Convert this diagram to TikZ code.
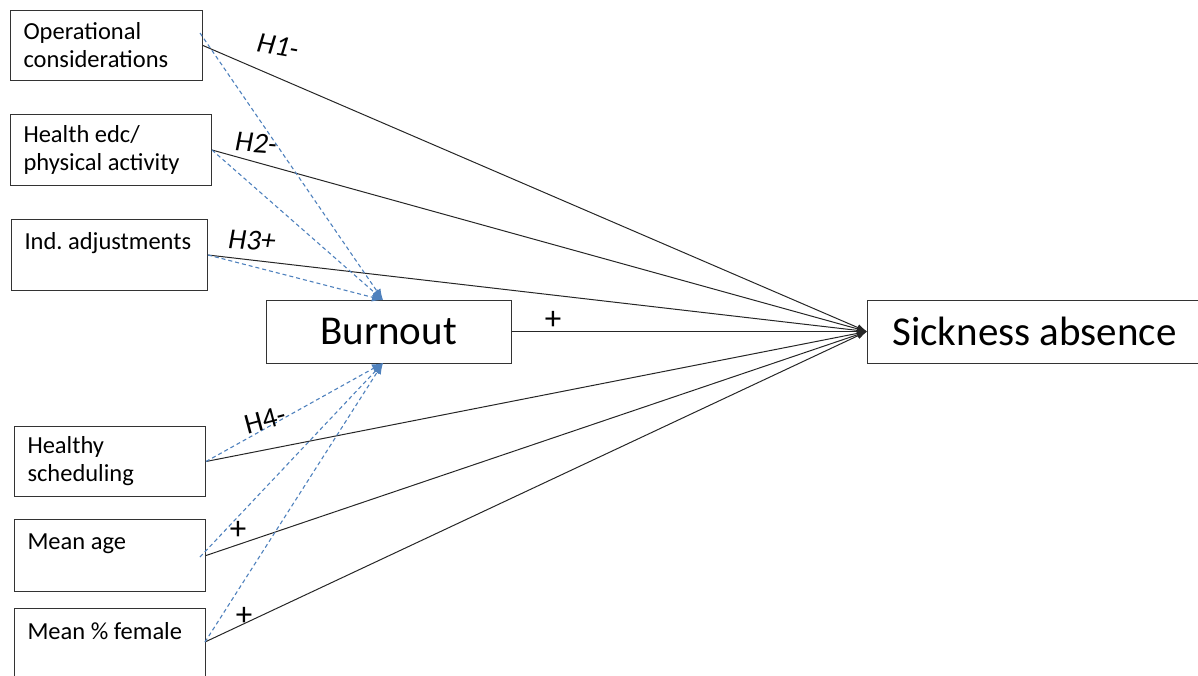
\documentclass[tikz,border=0pt]{standalone}
\usepackage{fontspec}
\setmainfont{Carlito}
\usetikzlibrary{arrows.meta}
\definecolor{dblue}{RGB}{79,129,189}
\newcommand\natsp{\frenchspacing \spaceskip=0pt \xspaceskip=0pt \hyphenpenalty=10000 }
\begin{document}
\begin{tikzpicture}[x=1pt,y=-1pt,
  varbox/.style={draw=black!80, line width=1pt, align=left, anchor=north west,
    inner xsep=13pt, inner ysep=0pt, font=\fontsize{24.5}{28}\selectfont},
  bigbox/.style={draw=black!80, line width=1pt, align=center, inner sep=0pt,
    minimum height=63pt, font=\fontsize{41}{46}\selectfont},
  solidarr/.style={draw=black!85, line width=1pt, -{Latex[length=10pt,width=7pt]}},
  dasharr/.style={draw=dblue, line width=1.1pt, dash pattern=on 4pt off 3pt,
    -{Latex[length=11pt,width=9pt]}},
  hlab/.style={font=\fontsize{29}{32}\selectfont\itshape, inner sep=0pt},
  plab/.style={font=\fontsize{33}{36}\selectfont, inner sep=0pt}]
\useasboundingbox (0,0) rectangle (1198,675);
\clip (0,0) rectangle (1198,675);

% boxes
\node[varbox, text width=166pt, minimum height=70pt] (op) at (10,10) {\natsp Operational\\considerations};
\node[varbox, text width=175pt, minimum height=71pt] (hea) at (10,114) {\natsp Health edc/\\physical activity};
\node[varbox, text width=170pt, minimum height=71pt] (ind) at (11,219) {\natsp Ind. adjustments\\\mbox{}};
\node[varbox, text width=165pt, minimum height=70pt] (sch) at (14,426) {\natsp Healthy\\scheduling};
\node[varbox, text width=165pt, minimum height=72pt] (age) at (14,519) {\natsp Mean age\\\mbox{}};
\node[varbox, text width=165pt, minimum height=72pt] (fem) at (14,608) {\natsp Mean \% female\\\mbox{}};
\node[bigbox, minimum width=245pt] (burn) at (388.5,331.5) {Burnout};
\node[bigbox, minimum width=334pt, anchor=west] (sick) at (867,331.5) {Sickness absence};

% helper coordinates
\coordinate (opd) at (200,33);
\coordinate (aged) at (200,557);
\coordinate (femo) at (205,642);
\coordinate (bt) at (383,300);
\coordinate (bb) at (383,363);
\coordinate (tgt) at (867,331.5);

% solid paths to sickness absence
\draw[solidarr] (op.east) -- (tgt);
\draw[solidarr] (hea.east) -- (tgt);
\draw[solidarr] (ind.east) -- (tgt);
\draw[solidarr] (burn.east) -- (tgt);
\draw[solidarr] (sch.east) -- (tgt);
\draw[solidarr] (age.east) -- (tgt);
\draw[solidarr] (femo) -- (tgt);

% dashed paths to burnout
\draw[dasharr] (opd) -- (bt);
\draw[dasharr] (hea.east) -- (bt);
\draw[dasharr] (ind.east) -- (bt);
\draw[dasharr] (sch.east) -- (bb);
\draw[dasharr] (aged) -- (bb);
\draw[dasharr] (femo) -- (bb);

% labels
\node[hlab, rotate=-10] (h1) at (278,46) {H1-};
\node[hlab, rotate=-4] (h2) at (256,143) {H2-};
\node[hlab, rotate=-3] (h3) at (252,240) {H3+};
\node[hlab, font=\fontsize{29}{32}\selectfont, rotate=15] (h4) at (265,420) {H4-};
\node[plab] (p1) at (553,320) {+};
\node[plab] (p2) at (238,530) {+};
\node[plab] (p3) at (244,616) {+};
\end{tikzpicture}
\end{document}
